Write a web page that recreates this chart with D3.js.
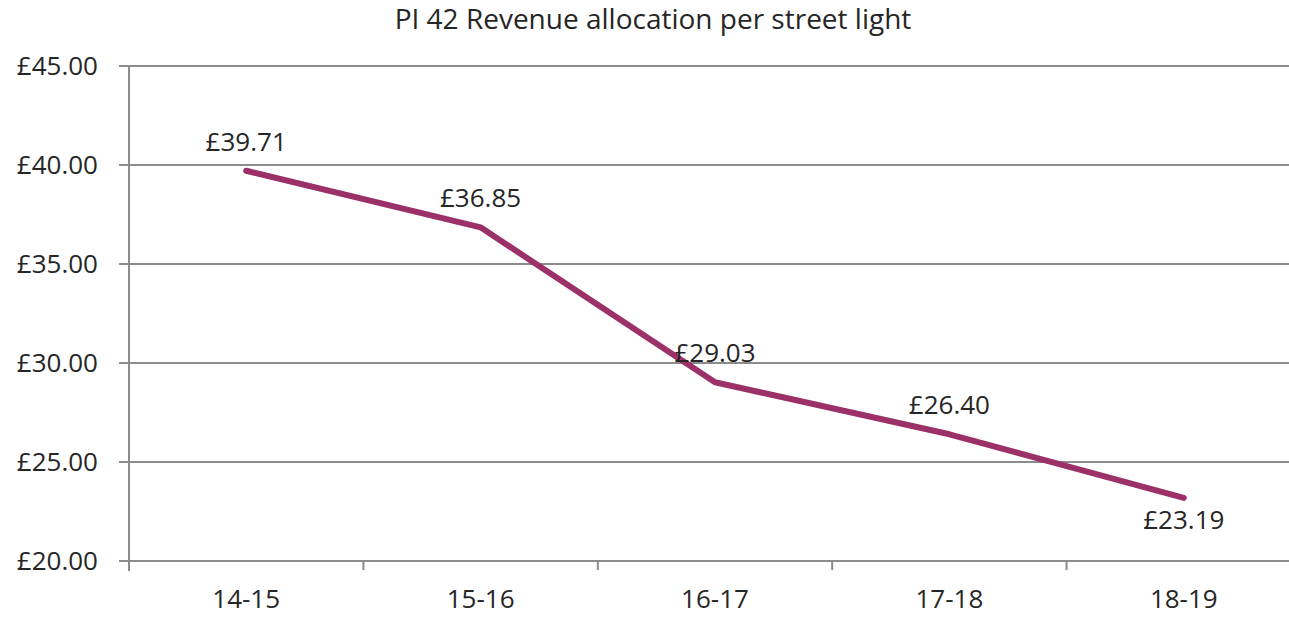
<!DOCTYPE html>
<html>
<head>
<meta charset="utf-8">
<script src="https://cdn.jsdelivr.net/npm/d3@7"></script>
<style>
    body { margin: 0; background: #fff; }
    svg { display: block; font-family: 'Open Sans', 'Noto Sans', sans-serif; }
</style>
</head>
<body>
<div id="chart"></div>
<script>
var title = 'PI 42 Revenue allocation per street light',
    years = ['14-15', '15-16', '16-17', '17-18', '18-19'],
    values = [39.71, 36.85, 29.03, 26.40, 23.19],
    yTicks = [20, 25, 30, 35, 40, 45],
    // label sits below the point only for the last one
    labelBelow = [false, false, false, false, true];

(function () {
    'use strict';

    var width = 1289,
        height = 617,
        margin = { top: 66, left: 129, bottom: 56 },
        plotW = 1172,
        plotH = height - margin.top - margin.bottom,
        lineColor = '#9c3169',
        gridColor = '#8c8c8c',
        textColor = '#262626',
        svg, g, x, y, line;

    svg = d3.select('#chart').append('svg')
        .attr('width', width)
        .attr('height', height);

    svg.append('text')
        .attr('x', 653)
        .attr('y', 29)
        .attr('text-anchor', 'middle')
        .attr('font-size', 28)
        .attr('fill', textColor)
        .text(title);

    g = svg.append('g')
        .attr('transform', 'translate(' + margin.left + ',' + margin.top + ')');

    x = d3.scaleBand()
        .domain(years)
        .range([0, plotW]);

    y = d3.scaleLinear()
        .domain([20, 45])
        .range([plotH, 0]);

    // gridlines
    g.selectAll('.grid')
        .data(yTicks)
        .enter()
        .append('line')
        .attr('class', 'grid')
        .attr('x1', -10)
        .attr('x2', plotW)
        .attr('y1', function (d) { return y(d); })
        .attr('y2', function (d) { return y(d); })
        .attr('stroke', gridColor)
        .attr('stroke-width', 2);

    // y axis line
    g.append('line')
        .attr('x1', 0).attr('x2', 0)
        .attr('y1', 0).attr('y2', plotH + 10)
        .attr('stroke', gridColor)
        .attr('stroke-width', 2);

    g.selectAll('.ylab')
        .data(yTicks)
        .enter()
        .append('text')
        .attr('class', 'ylab')
        .attr('x', -31)
        .attr('y', function (d) { return y(d); })
        .attr('dy', '0.36em')
        .attr('text-anchor', 'end')
        .attr('font-size', 26)
        .attr('fill', textColor)
        .text(function (d) { return '£' + d3.format('.2f')(d); });

    // category tick marks at band boundaries
    g.selectAll('.xtick')
        .data(years.slice(1))
        .enter()
        .append('line')
        .attr('class', 'xtick')
        .attr('x1', function (d) { return x(d); })
        .attr('x2', function (d) { return x(d); })
        .attr('y1', plotH)
        .attr('y2', plotH + 9)
        .attr('stroke', gridColor)
        .attr('stroke-width', 2);

    g.selectAll('.xlab')
        .data(years)
        .enter()
        .append('text')
        .attr('class', 'xlab')
        .attr('x', function (d) { return x(d) + x.bandwidth() / 2; })
        .attr('y', plotH + 47)
        .attr('text-anchor', 'middle')
        .attr('font-size', 26)
        .attr('fill', textColor)
        .text(function (d) { return d; });

    line = d3.line()
        .x(function (d, i) { return x(years[i]) + x.bandwidth() / 2; })
        .y(function (d) { return y(d); });

    g.append('path')
        .datum(values)
        .attr('d', line)
        .attr('fill', 'none')
        .attr('stroke', lineColor)
        .attr('stroke-width', 6)
        .attr('stroke-linecap', 'round')
        .attr('stroke-linejoin', 'round');

    g.selectAll('.dlab')
        .data(values)
        .enter()
        .append('text')
        .attr('class', 'dlab')
        .attr('x', function (d, i) { return x(years[i]) + x.bandwidth() / 2; })
        .attr('y', function (d, i) { return y(d) + (labelBelow[i] ? 31 : -20); })
        .attr('text-anchor', 'middle')
        .attr('font-size', 26)
        .attr('fill', textColor)
        .text(function (d) { return '£' + d3.format('.2f')(d); });
}());
</script>
</body>
</html>
